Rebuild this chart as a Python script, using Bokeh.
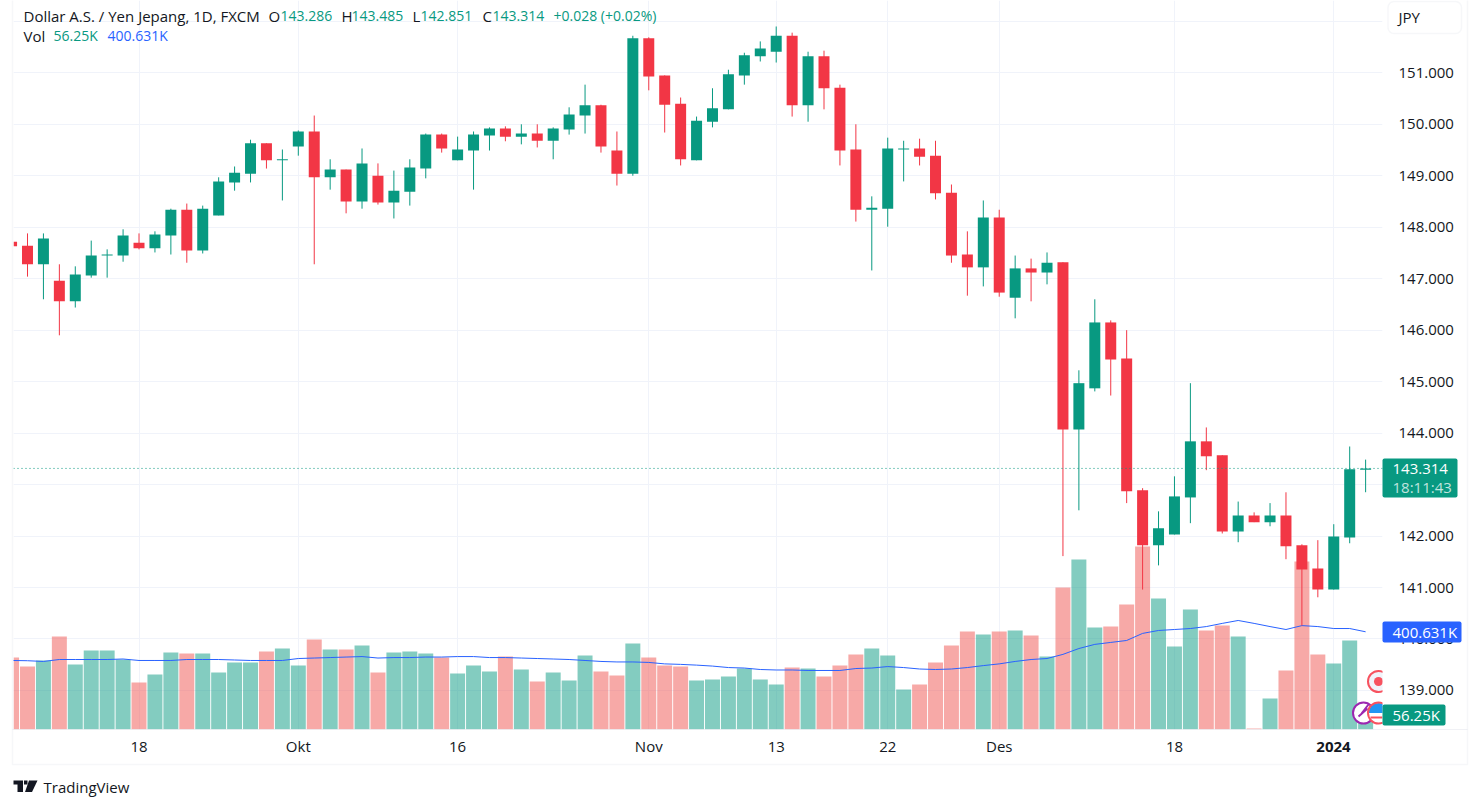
from bokeh.plotting import figure
from bokeh.embed import file_html
from bokeh.resources import INLINE
from bokeh.models import Range1d, FixedTicker, Label, BoxAnnotation, PolyAnnotation, Span, NumeralTickFormatter

bar_index = list(range(-1, 85))
opens = [147.72,
 147.64,147.28,146.96,146.56,147.06,147.45,147.45,147.70,147.59,147.84,
 148.34,147.55,148.23,148.87,149.04,149.63,149.30,149.57,149.86,148.97,
 149.12,148.50,149.00,148.48,148.69,149.14,149.80,149.30,149.49,149.78,
 149.92,149.76,149.82,149.68,149.90,150.17,150.37,149.49,149.04,151.67,
 150.95,150.40,149.30,150.05,150.29,150.95,151.32,151.41,151.72,150.37,
 151.32,150.71,149.51,148.34,148.36,149.51,149.53,149.39,148.67,147.47,
 147.22,148.19,146.63,147.20,147.12,147.32,144.07,144.87,146.15,145.45,
 142.89,141.82,142.03,142.75,143.84,143.57,142.09,142.40,142.27,142.40,
 141.82,141.37,140.96,141.97,143.286]
closes = [147.63,
 147.28,147.78,146.56,147.08,147.45,147.47,147.84,147.59,147.86,148.34,
 147.55,148.36,148.89,149.06,149.63,149.30,149.32,149.86,148.97,149.12,
 148.50,149.24,148.48,148.71,149.16,149.80,149.53,149.51,149.80,149.92,
 149.76,149.82,149.68,149.92,150.19,150.37,149.57,149.04,151.67,150.93,
 150.38,149.32,150.07,150.31,150.97,151.34,151.47,151.72,150.37,151.32,
 150.70,149.49,148.34,148.38,149.53,149.53,149.37,148.66,147.45,147.22,
 148.19,146.73,147.20,147.12,147.31,144.07,144.97,146.15,145.43,142.87,
 141.82,142.15,142.77,143.84,143.55,142.09,142.40,142.27,142.40,141.80,
 141.35,140.96,141.99,143.30,143.314]
highs = [147.75,
 147.88,147.88,147.28,147.24,147.74,147.57,147.96,147.88,147.92,148.36,
 148.46,148.42,148.97,149.18,149.70,149.63,149.51,149.88,150.17,149.32,
 149.12,149.53,149.24,149.10,149.32,149.82,149.82,149.76,149.86,149.94,
 149.96,150.00,150.00,149.94,150.33,150.77,150.38,149.86,151.72,151.69,
 150.95,150.52,150.15,150.70,151.06,151.39,151.61,151.90,151.78,151.41,
 151.43,150.77,150.00,148.60,149.74,149.68,149.72,149.68,148.83,147.92,
 148.52,148.34,147.45,147.39,147.51,147.32,145.22,146.60,146.19,146.00,
 142.93,142.48,143.16,144.97,144.11,143.57,142.67,142.46,142.64,142.85,
 141.84,141.92,142.23,143.74,143.485]
lows = [147.60,
 147.04,146.60,145.90,146.44,147.02,147.02,147.33,147.57,147.51,147.47,
 147.31,147.49,148.23,148.71,148.87,149.14,148.52,149.39,147.28,148.73,
 148.27,148.36,148.44,148.17,148.42,148.95,149.45,149.30,148.73,149.49,
 149.67,149.61,149.55,149.32,149.80,149.82,149.45,148.81,149.00,150.66,
 149.84,149.20,149.30,149.94,150.29,150.77,151.22,151.20,150.15,150.05,
 150.29,149.20,148.11,147.16,148.01,148.89,149.20,148.54,147.31,146.67,
 146.85,146.65,146.23,146.56,146.89,141.61,142.50,144.81,144.73,142.64,
 140.96,141.43,142.03,142.25,143.28,142.05,141.88,142.27,142.19,141.55,
 140.26,140.81,140.96,141.86,142.851]
volume_k = [295,
 258,283,381,267,324,324,287,193,226,316,
 312,312,234,275,275,320,332,262,369,328,
 328,344,234,316,320,312,295,230,262,238,
 299,246,197,234,201,303,238,221,353,295,
 262,258,201,205,217,250,205,185,254,250,
 217,262,308,332,303,164,185,275,344,402,
 390,402,406,385,299,582,697,418,422,513,
 750,537,340,492,406,426,381,4,127,242,
 689,308,271,365,56.25]
volume_ma_k = [283,
 282,279,287,287,287,287,289,283,283,283,
 287,287,287,285,283,283,283,291,293,295,
 297,299,293,295,295,297,297,299,299,295,
 295,293,291,289,287,283,279,277,277,275,
 269,267,264,260,254,252,246,244,244,242,
 242,242,250,252,258,254,248,246,248,254,
 262,269,279,287,291,308,332,349,357,365,
 394,406,410,414,422,435,447,435,422,410,
 426,422,414,414,400.631]

price_ticks = [139,140,141,142,143,144,145,146,147,148,149,150,151]
grid_prices = price_ticks + [152]
date_ticks = [7,17,27,39,47,54,61,72,82]
date_labels = ["18","Okt","16","Nov","13","22","Des","18",""]
year_label = "2024"

title_parts = [("Dollar A.S. / Yen Jepang, 1D, FXCM",23,"dark","15px"),("O",268,"dark","15px"),("143.286",280,"up","14px"),
               ("H",341,"dark","15px"),("143.485",351,"up","14px"),("L",412,"dark","15px"),("142.851",420,"up","14px"),
               ("C",482,"dark","15px"),("143.314",492,"up","14px"),("+0.028 (+0.02%)",553,"up","14px")]
vol_parts = [("Vol",23,"dark","15px"),("56.25K",53,"up","14px"),("400.631K",107,"blue","14px")]

UP, DOWN, BLUE, DARK = "#089981", "#F23645", "#2962FF", "#131722"
VOL_UP, VOL_DOWN = "#089981", "#EF5350"
GRID, BORDER = "#F0F3FA", "#E0E3EB"
FONT = "Open Sans"
tone = {"dark": DARK, "up": UP, "blue": BLUE}

STEP = 15.93
PX_PER_PRICE = 51.47
PX_PER_K = 1 / 4.1
W, H = 1472, 800
def tx(px): return (px - 27) / STEP
def ty(py): return 152.405 - py / PX_PER_PRICE

p = figure(width=W, height=H, output_backend="svg", toolbar_location=None,
           x_range=Range1d(tx(13), tx(1382)), y_range=Range1d(ty(729), ty(0)),
           y_axis_location="right",
           min_border_left=13, min_border_right=90, min_border_top=0, min_border_bottom=71,
           outline_line_color=None, background_fill_color="white", border_fill_color="white")
p.extra_y_ranges = {"vol": Range1d(0, 729 / PX_PER_K)}

# axes
ya = p.yaxis[0]
ya.ticker = FixedTicker(ticks=price_ticks)
ya.formatter = NumeralTickFormatter(format="0.000")
ya.axis_line_color = None
ya.major_tick_line_color = None
ya.minor_tick_line_color = None
ya.major_label_standoff = 10
ya.major_label_text_font = FONT
ya.major_label_text_font_size = "15px"
ya.major_label_text_color = DARK

xa = p.xaxis[0]
xa.ticker = FixedTicker(ticks=date_ticks)
xa.major_label_overrides = dict(zip(date_ticks, date_labels))
xa.axis_line_color = None
xa.major_tick_line_color = None
xa.minor_tick_line_color = None
xa.major_label_standoff = 0
xa.major_label_text_font = FONT
xa.major_label_text_font_size = "15px"
xa.major_label_text_color = DARK

p.xgrid[0].ticker = FixedTicker(ticks=date_ticks)
p.ygrid[0].ticker = FixedTicker(ticks=grid_prices)
p.xgrid[0].grid_line_color = GRID
p.ygrid[0].grid_line_color = GRID
p.xgrid[0].grid_line_width = 1
p.ygrid[0].grid_line_width = 1

# volume
vol_colors = [VOL_UP if c >= o else VOL_DOWN for o, c in zip(opens, closes)]
p.vbar(x=bar_index, top=volume_k, bottom=0, width=0.94, y_range_name="vol",
       fill_color=vol_colors, fill_alpha=0.5, line_color=None)
p.line(x=bar_index, y=volume_ma_k, y_range_name="vol", line_color=BLUE, line_width=1)

# candles
colors = [UP if c >= o else DOWN for o, c in zip(opens, closes)]
p.segment(x0=bar_index, x1=bar_index, y0=lows, y1=highs, line_color=colors, line_width=1)
p.vbar(x=bar_index, top=[max(a, b) for a, b in zip(opens, closes)],
       bottom=[min(a, b) for a, b in zip(opens, closes)], width=0.69,
       fill_color=colors, line_color=None)

p.add_layout(Span(location=closes[-1], dimension="width", line_color=UP, line_width=1, line_dash="1 3"))

# event icons, clipped by the plot's right edge
def disc(px, py, size, fill, line=None, lw=2):
    p.scatter([tx(px)], [ty(py)], size=size, marker="circle", fill_color=fill, line_color=line, line_width=lw)
disc(1378, 681, 21, GRID, "#F7525F")
disc(1378, 681, 9, "#F7525F")
disc(1363, 712.5, 21, "white", "#9C27B0")
p.line([tx(1358), tx(1367), tx(1361), tx(1368)], [ty(716), ty(708), ty(713), ty(704)], line_color="#9C27B0", line_width=2)
p.wedge([tx(1378)], [ty(712.5)], radius=10, radius_units="screen", start_angle=0, end_angle=3.1416,
        fill_color="#2196F3", line_color=None)
p.wedge([tx(1378)], [ty(712.5)], radius=10, radius_units="screen", start_angle=3.1416, end_angle=6.2832,
        fill_color="white", line_color=None)
p.segment([tx(1370)], [ty(717)], [tx(1382)], [ty(717)], line_color="#F7525F", line_width=2)
disc(1378, 712.5, 21, None, "#F7525F")

# a transparent sheet over the whole picture, in page pixels, for what lies outside the plot frame
sheet = figure(width=W, height=H, output_backend="svg", toolbar_location=None,
               x_range=Range1d(0, W), y_range=Range1d(H, 0), x_axis_location=None, y_axis_location=None,
               min_border=0, outline_line_color=None, background_fill_color=None, border_fill_color=None,
               margin=(-H, 0, 0, 0))
sheet.xgrid.visible = False
sheet.ygrid.visible = False

def box(l, t, r, b, **kw):
    kw.setdefault("fill_alpha", 1)
    sheet.add_layout(BoxAnnotation(left=l, right=r, top=t, bottom=b, **kw))
box(12, -6, 1467, 764, fill_alpha=0, line_color=BORDER, line_width=1.5)
box(12, 729, 1467, 729, fill_alpha=0, line_color=BORDER, line_width=1)
box(1387.5, 1, 1461, 33, fill_color="white", line_color=BORDER, line_width=1.5, border_radius=6)

# value tags
box(1382, 458, 1457, 497, fill_color=UP, line_color=None, border_radius=2)
box(1382, 621, 1461, 642, fill_color=BLUE, line_color=None, border_radius=2)
box(1382, 704, 1445, 725, fill_color=UP, line_color=None, border_radius=2)

def lab(px, py, text, color=DARK, size="15px", style="normal", align="left", alpha=1.0):
    sheet.add_layout(Label(x=px, y=py, text=text, text_color=color, text_font=FONT, text_font_size=size,
                           text_font_style=style, text_baseline="middle", text_align=align,
                           text_alpha=alpha))
for t, px, k, s in title_parts:
    lab(px, 15, t, tone[k], size=s)
for t, px, k, s in vol_parts:
    lab(px, 35, t, tone[k], size=s)
lab(1398, 16, "JPY", DARK)
lab(1392, 468, f"{closes[-1]:.3f}", "white")
lab(1392, 486, "18:11:43", "white", alpha=0.75)
lab(1392, 631, "400.631K", "white")
lab(1392, 714, "56.25K", "white")
lab(1333, 746, year_label, DARK, style="bold", align="center")
lab(43, 786, "TradingView", DARK, size="15px")

# TradingView mark
def poly(pts):
    sheet.add_layout(PolyAnnotation(xs=[a for a, b in pts], ys=[b for a, b in pts],
                                    fill_color=DARK, fill_alpha=1, line_color=None))
poly([(13, 780), (22.5, 780), (22.5, 791.5), (17, 791.5), (17, 784), (13, 784)])
poly([(28.5, 780), (37, 780), (31.5, 791.5), (24.5, 791.5)])
poly([(23.5, 780), (27, 780), (27, 784), (23.5, 784)])

open("out.html", "w").write(file_html([p, sheet], INLINE))
